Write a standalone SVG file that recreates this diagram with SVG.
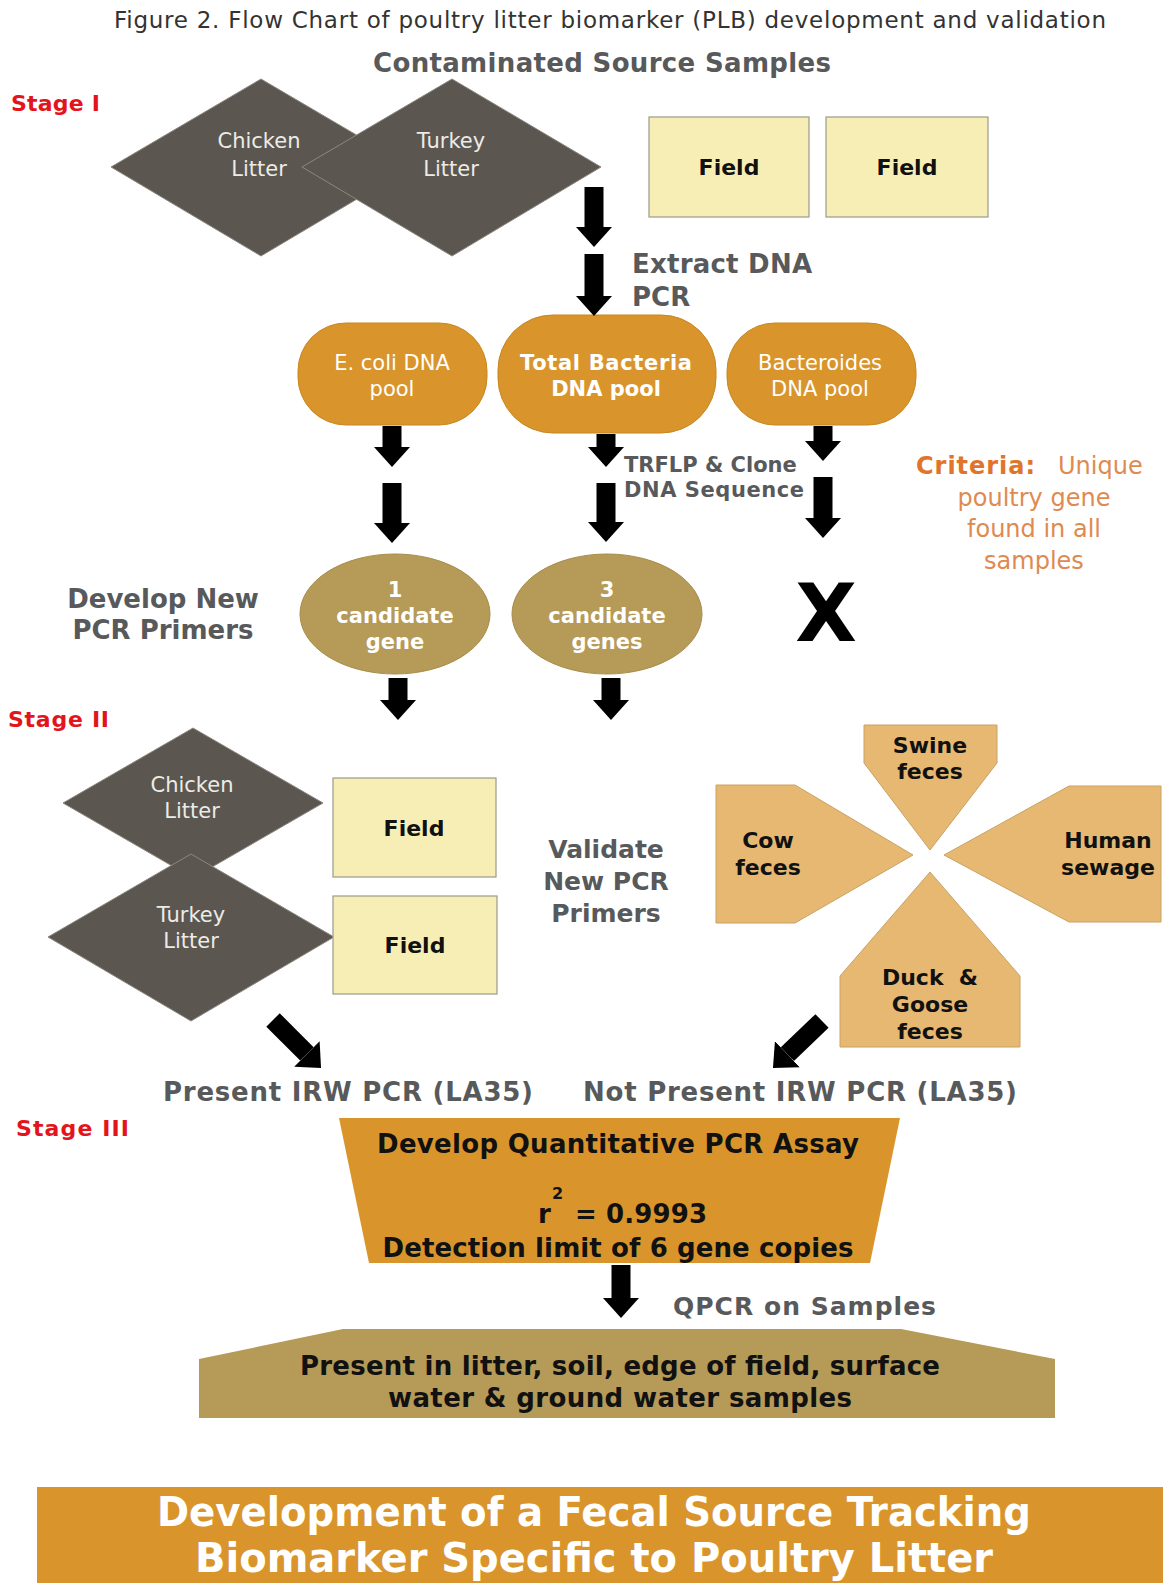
<svg xmlns="http://www.w3.org/2000/svg" width="1163" height="1583" viewBox="0 0 1163 1583">
<defs>
<style>
text{font-family:"DejaVu Sans","Liberation Sans",sans-serif}
.b{font-weight:bold}
.gray{fill:#58595b}
.red{fill:#e3141c;font-weight:bold;font-size:22px}
.dia{fill:#5b5650;stroke:#8c877f;stroke-width:1}
.diat{fill:#ecebe6;font-size:21px;text-anchor:middle}
.field{fill:#f7eeb5;stroke:#9a9a8e;stroke-width:1.2}
.fieldt{fill:#111;font-size:22px;font-weight:bold;text-anchor:middle}
.pool{fill:#d9952b;stroke:#c8861f;stroke-width:1}
.poolt{fill:#fff;font-size:21px;text-anchor:middle}
.olive{fill:#b69a57;stroke:#a88c4a;stroke-width:1}
.olivet{fill:#fff;font-size:21px;font-weight:bold;text-anchor:middle}
.tan{fill:#e6b872;stroke:#c9a264;stroke-width:1}
.tant{fill:#111;font-size:22px;font-weight:bold;text-anchor:middle}
.blk{fill:#111;font-weight:bold;text-anchor:middle;font-size:26px}
.conn line{stroke:#000;stroke-width:19;stroke-linecap:butt;marker-end:url(#head)}
</style>
<marker id="head" viewBox="0 0 20 36" markerWidth="20" markerHeight="36" refX="0" refY="18" orient="auto" markerUnits="userSpaceOnUse">
<path d="M0,0 L20,18 L0,36 Z" fill="#000"/>
</marker>
</defs>
<rect width="1163" height="1583" fill="#fff"/>

<text x="114" y="28" font-size="23" fill="#333" textLength="992">Figure 2. Flow Chart of poultry litter biomarker (PLB) development and validation</text>
<text x="373" y="72" font-size="26" class="b gray" textLength="458">Contaminated Source Samples</text>
<text x="11" y="111" class="red" textLength="89">Stage I</text>

<g id="chicken1">
<polygon class="dia" points="111,167 261,79 411,167 261,256"/>
<text class="diat" x="259" y="148">Chicken</text>
<text class="diat" x="259" y="176">Litter</text>
</g>
<g id="turkey1">
<polygon class="dia" points="302,167 452,79 601,167 452,256"/>
<text class="diat" x="451" y="148">Turkey</text>
<text class="diat" x="451" y="176">Litter</text>
</g>
<g id="field1a">
<rect class="field" x="649" y="117" width="160" height="100"/>
<text class="fieldt" x="729" y="175">Field</text>
</g>
<g id="field1b">
<rect class="field" x="826" y="117" width="162" height="100"/>
<text class="fieldt" x="907" y="175">Field</text>
</g>

<text x="632" y="273" font-size="26" class="b gray" textLength="180">Extract DNA</text>
<text x="632" y="306" font-size="26" class="b gray">PCR</text>

<g id="ecoli">
<rect class="pool" x="298" y="323" width="189" height="102" rx="48"/>
<text class="poolt" x="392" y="370">E. coli DNA</text>
<text class="poolt" x="392" y="396">pool</text>
</g>
<g id="total">
<rect class="pool" x="498" y="315" width="218" height="118" rx="55"/>
<text class="poolt b" x="606" y="370" textLength="172">Total Bacteria</text>
<text class="poolt b" x="606" y="396">DNA pool</text>
</g>
<g id="bacteroides">
<rect class="pool" x="727" y="323" width="189" height="102" rx="48"/>
<text class="poolt" x="820" y="370">Bacteroides</text>
<text class="poolt" x="820" y="396">DNA pool</text>
</g>

<text x="624" y="472" font-size="21" class="b gray">TRFLP &amp; Clone</text>
<text x="624" y="497" font-size="21" class="b gray" textLength="180">DNA Sequence</text>

<g id="criteria" font-size="24">
<text x="916" y="474"><tspan class="b" fill="#e0742a" textLength="119">Criteria:</tspan><tspan x="1058" fill="#de8a50">Unique</tspan></text>
<text x="1034" y="506" fill="#de8a50" text-anchor="middle">poultry gene</text>
<text x="1034" y="537" fill="#de8a50" text-anchor="middle">found in all</text>
<text x="1034" y="569" fill="#de8a50" text-anchor="middle">samples</text>
</g>

<text x="163" y="608" font-size="26" class="b gray" text-anchor="middle">Develop New</text>
<text x="163" y="639" font-size="26" class="b gray" text-anchor="middle">PCR Primers</text>

<g id="cand1">
<ellipse class="olive" cx="395" cy="614" rx="95" ry="60"/>
<text class="olivet" x="395" y="597">1</text>
<text class="olivet" x="395" y="623">candidate</text>
<text class="olivet" x="395" y="649">gene</text>
</g>
<g id="cand3">
<ellipse class="olive" cx="607" cy="614" rx="95" ry="60"/>
<text class="olivet" x="607" y="597">3</text>
<text class="olivet" x="607" y="623">candidate</text>
<text class="olivet" x="607" y="649">genes</text>
</g>
<text id="xmark" x="826" y="641" font-size="80" class="b" fill="#000" text-anchor="middle">X</text>

<text x="8" y="727" class="red" textLength="101">Stage II</text>

<g id="chicken2">
<polygon class="dia" points="63,803 193,728 323,803 193,878"/>
<text class="diat" x="192" y="792">Chicken</text>
<text class="diat" x="192" y="818">Litter</text>
</g>
<g id="turkey2">
<polygon class="dia" points="48,937 191,854 334,937 191,1021"/>
<text class="diat" x="191" y="922">Turkey</text>
<text class="diat" x="191" y="948">Litter</text>
</g>
<g id="field2a">
<rect class="field" x="333" y="778" width="163" height="99"/>
<text class="fieldt" x="414" y="836">Field</text>
</g>
<g id="field2b">
<rect class="field" x="333" y="896" width="164" height="98"/>
<text class="fieldt" x="415" y="953">Field</text>
</g>

<text x="606" y="858" font-size="25" class="b gray" text-anchor="middle">Validate</text>
<text x="606" y="890" font-size="25" class="b gray" text-anchor="middle">New PCR</text>
<text x="606" y="922" font-size="25" class="b gray" text-anchor="middle">Primers</text>

<g id="swine">
<polygon class="tan" points="864,725 997,725 997,763 930,850 864,763"/>
<text class="tant" x="930" y="753">Swine</text>
<text class="tant" x="930" y="779">feces</text>
</g>
<g id="cow">
<polygon class="tan" points="716,785 795,785 913,855 795,923 716,923"/>
<text class="tant" x="768" y="848">Cow</text>
<text class="tant" x="768" y="875">feces</text>
</g>
<g id="human">
<polygon class="tan" points="944,855 1069,786 1161,786 1161,922 1069,922"/>
<text class="tant" x="1108" y="848">Human</text>
<text class="tant" x="1108" y="875">sewage</text>
</g>
<g id="duck">
<polygon class="tan" points="930,872 1020,976 1020,1047 840,1047 840,976"/>
<text class="tant" x="930" y="985" xml:space="preserve">Duck  &amp;</text>
<text class="tant" x="930" y="1012">Goose</text>
<text class="tant" x="930" y="1039">feces</text>
</g>

<text x="163" y="1101" font-size="26" class="b gray" textLength="370">Present IRW PCR (LA35)</text>
<text x="583" y="1101" font-size="26" class="b gray" textLength="434">Not Present IRW PCR (LA35)</text>

<text x="16" y="1136" class="red" textLength="113">Stage III</text>

<g id="qpcr">
<polygon points="339,1118 900,1118 870,1263 369,1263" fill="#d9952b"/>
<text class="blk" x="618" y="1153" textLength="482">Develop Quantitative PCR Assay</text>
<text x="538" y="1223" font-size="26" class="b" fill="#111">r</text>
<text x="552" y="1199" font-size="16" class="b" fill="#111">2</text>
<text x="575" y="1223" font-size="26" class="b" fill="#111" textLength="132">= 0.9993</text>
<text class="blk" x="618" y="1257" textLength="471">Detection limit of 6 gene copies</text>
</g>

<text x="673" y="1315" font-size="25" class="b gray" textLength="263">QPCR on Samples</text>

<g id="result">
<polygon points="343,1329 901,1329 1055,1359 1055,1418 199,1418 199,1359" fill="#b69a57"/>
<text class="blk" x="620" y="1375" textLength="640">Present in litter, soil, edge of field, surface</text>
<text class="blk" x="620" y="1407" textLength="464">water &amp; ground water samples</text>
</g>

<g id="banner">
<rect x="37" y="1487" width="1126" height="96" fill="#d9952b"/>
<text x="594" y="1526" font-size="40" class="b" fill="#fff" text-anchor="middle" textLength="874" lengthAdjust="spacingAndGlyphs">Development of a Fecal Source Tracking</text>
<text x="594" y="1572" font-size="40" class="b" fill="#fff" text-anchor="middle" textLength="798" lengthAdjust="spacingAndGlyphs">Biomarker Specific to Poultry Litter</text>
</g>

<g id="connectors" class="conn">
<line x1="594" y1="187" x2="594" y2="227"/>
<line x1="594" y1="254" x2="594" y2="296"/>
<line x1="392" y1="426" x2="392" y2="447"/>
<line x1="392" y1="483" x2="392" y2="523"/>
<line x1="606" y1="434" x2="606" y2="447"/>
<line x1="606" y1="483" x2="606" y2="522"/>
<line x1="823" y1="426" x2="823" y2="441"/>
<line x1="823" y1="477" x2="823" y2="518"/>
<line x1="398" y1="678" x2="398" y2="700"/>
<line x1="611" y1="678" x2="611" y2="700"/>
<line x1="273" y1="1020" x2="306.9" y2="1053.9"/>
<line x1="822" y1="1021" x2="787.4" y2="1054.2"/>
<line x1="621" y1="1265" x2="621" y2="1298"/>
</g>
</svg>
